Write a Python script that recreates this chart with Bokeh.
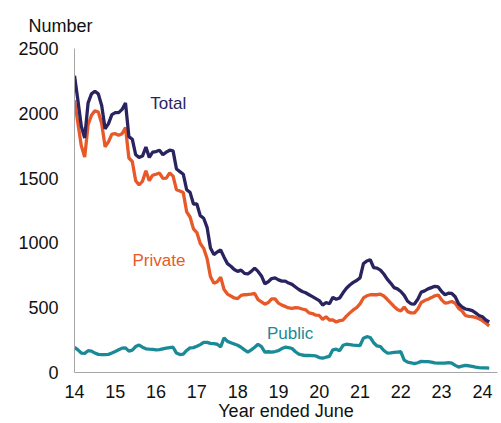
from bokeh.plotting import figure
from bokeh.models import Label, FixedTicker, Range1d
from bokeh.embed import file_html
from bokeh.resources import INLINE

# Monthly data, year ended June (x = years since 2000), starting mid-2014
start_year = 14
total = [2290, 2100, 1900, 1810, 2080, 2150, 2170, 2150, 2060, 1880, 1920, 1990,
         2005, 2005, 2030, 2080, 1820, 1800, 1680, 1660, 1670, 1740, 1660, 1700,
         1705, 1715, 1680, 1700, 1715, 1710, 1570, 1550, 1530, 1410, 1390, 1300,
         1300, 1210, 1190, 1120, 960, 910, 930, 945, 890, 840, 820, 795,
         780, 790, 765, 760, 780, 805, 780, 745, 685, 700, 725, 730,
         715, 705, 705, 690, 680, 660, 640, 625, 615, 600, 585, 570,
         555, 520, 540, 530, 580, 565, 575, 615, 650, 675, 695, 710,
         730, 840, 860, 870, 810, 805, 790, 760, 720, 690, 655, 645,
         625, 595, 550, 530, 528, 565, 620, 630, 645, 655, 665, 660,
         625, 600, 612, 610, 585, 530, 505, 490, 485, 478, 460, 440,
         430, 405, 390]
private = [2100, 1925, 1750, 1662, 1912, 1985, 2020, 2010, 1922, 1742, 1780, 1840,
           1843, 1830, 1842, 1890, 1655, 1628, 1480, 1448, 1475, 1557, 1480, 1522,
           1530, 1539, 1498, 1500, 1540, 1515, 1410, 1400, 1388, 1240, 1200, 1108,
           1080, 995, 958, 880, 740, 688, 700, 735, 640, 605, 590, 575,
           570, 595, 600, 602, 605, 610, 562, 545, 527, 540, 568, 568,
           535, 520, 510, 498, 495, 500, 498, 490, 484, 460, 455, 442,
           440, 410, 430, 405, 405, 390, 400, 405, 435, 460, 483, 500,
           530, 575, 592, 600, 600, 600, 605, 590, 565, 538, 510, 487,
           475, 505, 470, 460, 460, 490, 540, 555, 565, 578, 592, 598,
           560, 535, 540, 548, 535, 495, 475, 440, 433, 431, 425, 415,
           400, 380, 360]
public = [195, 175, 150, 148, 168, 165, 150, 140, 138, 138, 140, 150,
          162, 175, 188, 190, 165, 172, 200, 212, 195, 183, 180, 178,
          175, 176, 182, 188, 192, 195, 150, 138, 142, 170, 190, 192,
          202, 215, 232, 233, 225, 222, 218, 198, 268, 240, 230, 220,
          210, 195, 175, 158, 175, 195, 218, 200, 158, 160, 157, 162,
          168, 185, 195, 192, 185, 160, 142, 135, 131, 132, 130, 128,
          115, 110, 118, 125, 175, 180, 168, 210, 218, 215, 212, 210,
          208, 265, 276, 270, 230, 205, 200, 170, 150, 152, 155, 158,
          160, 95, 80, 75, 68, 75, 86, 84, 84, 80, 74, 73,
          73, 72, 76, 72, 55, 42, 50, 55, 52, 47, 42, 38,
          36, 35, 34]
x_ticks = [14, 15, 16, 17, 18, 19, 20, 21, 22, 23, 24]
y_ticks = [0, 500, 1000, 1500, 2000, 2500]

months = [start_year + i / 12 for i in range(len(total))]

NAVY = "#29245f"
ORANGE = "#e8592a"
TEAL = "#1a8a96"
FONT = "Liberation Sans"

p = figure(width=501, height=423, output_backend="svg", toolbar_location=None,
           x_range=Range1d(14, 24.37), y_range=Range1d(0, 2500),
           min_border_left=74, min_border_right=4, min_border_top=48,
           min_border_bottom=49)
p.outline_line_color = None
p.grid.visible = False
p.background_fill_color = "white"
p.border_fill_color = "white"

p.title.text = "Number"
p.title.align = "left"
p.title.offset = -46
p.title.text_font = FONT
p.title.text_font_size = "18px"
p.title.text_font_style = "normal"
p.title.text_color = "#111111"
p.title.standoff = 26

p.line(months, public, line_color=TEAL, line_width=3.3)
p.line(months, private, line_color=ORANGE, line_width=3.3)
p.line(months, total, line_color=NAVY, line_width=3.3)

for ax in (p.xaxis[0], p.yaxis[0]):
    ax.axis_line_color = "#a6a6a6"
    ax.axis_line_width = 1
    ax.major_tick_line_color = None
    ax.minor_tick_line_color = None
    ax.major_tick_in = 0
    ax.major_tick_out = 0
    ax.major_label_text_font = FONT
    ax.major_label_text_font_size = "18px"
    ax.major_label_text_color = "#111111"

p.xaxis[0].ticker = FixedTicker(ticks=x_ticks)
p.xaxis[0].major_label_standoff = 12
p.xaxis[0].axis_label = "Year ended June"
p.xaxis[0].axis_label_text_font = FONT
p.xaxis[0].axis_label_text_font_size = "18px"
p.xaxis[0].axis_label_text_font_style = "normal"
p.xaxis[0].axis_label_text_color = "#111111"
p.xaxis[0].axis_label_standoff = 0
p.yaxis[0].ticker = FixedTicker(ticks=y_ticks)
p.yaxis[0].major_label_standoff = 16

def lab(x, y, text, color, align="left"):
    p.add_layout(Label(x=x, y=y, text=text, text_color=color, text_font=FONT,
                       text_font_size="17px", text_baseline="middle",
                       text_align=align))

lab(15.86, 2078, "Total", NAVY)
lab(15.42, 867, "Private", ORANGE)
lab(18.72, 299, "Public", TEAL)

open("out.html", "w").write(file_html(p, INLINE))
